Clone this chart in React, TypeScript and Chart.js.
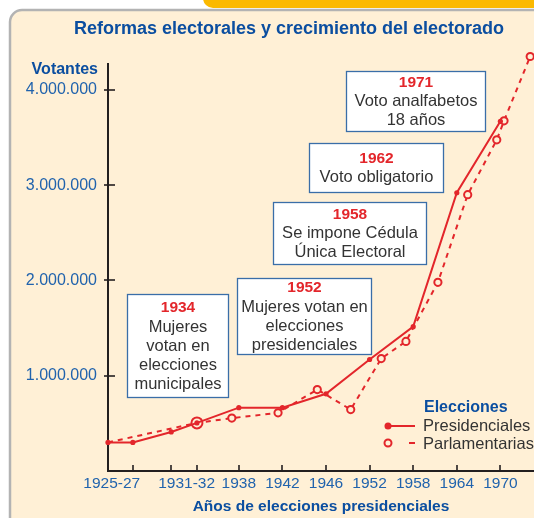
import React, { useEffect, useRef } from "react";
import { Chart, registerables } from "chart.js";

Chart.register(...registerables);

// ---------- data ----------
const presidentialYears = [1925, 1927, 1931, 1932, 1938, 1942, 1946, 1952, 1958, 1964, 1970];
const presidentialVoters = [300000, 300000, 410000, 505000, 665000, 665000, 810000, 1170000, 1515000, 2920000, 3670000];

const parliamentaryYears = [1925, 1932, 1937, 1941.6, 1945.2, 1949.4, 1953.6, 1957, 1961.4, 1965.5, 1969.5, 1970.5, 1974.1];
const parliamentaryVoters = [300000, 505000, 555000, 610000, 855000, 645000, 1180000, 1360000, 1980000, 2900000, 3475000, 3675000, 4350000];

const xTickLabels = ["1925-27", "1931-32", "1938", "1942", "1946", "1952", "1958", "1964", "1970"];
const xTickLabelYears = [1925.3, 1931.6, 1938, 1942, 1946, 1952, 1958, 1964, 1970];
const xTickMarkYears = [1927, 1931, 1932, 1938, 1942, 1946, 1952, 1958, 1964, 1970];
const yTickValues = [1000000, 2000000, 3000000, 4000000];

const reformYears = ["1934", "1952", "1958", "1962", "1971"];
const reformTexts = [
  ["Mujeres", "votan en", "elecciones", "municipales"],
  ["Mujeres votan en", "elecciones", "presidenciales"],
  ["Se impone Cédula", "Única Electoral"],
  ["Voto obligatorio"],
  ["Voto analfabetos", "18 años"],
];

// ---------- layout / style ----------
// the x axis gives one slot per presidential election (early ones compressed)
const axisAnchorYears = [1925, 1927, 1931, 1932, 1938, 1942, 1946, 1952, 1958, 1964, 1970];
const axisAnchorSlots = [0, 0.57, 1.45, 2.04, 3, 4, 5, 6, 7, 8, 9];
function toSlot(year: number): number {
  const n = axisAnchorYears.length;
  if (year <= axisAnchorYears[0]) return axisAnchorSlots[0];
  for (let i = 1; i < n; i++) {
    if (year <= axisAnchorYears[i]) {
      const y0 = axisAnchorYears[i - 1], y1 = axisAnchorYears[i];
      const s0 = axisAnchorSlots[i - 1], s1 = axisAnchorSlots[i];
      return s0 + ((year - y0) / (y1 - y0)) * (s1 - s0);
    }
  }
  return axisAnchorSlots[n - 1] + (year - axisAnchorYears[n - 1]) / 6;
}
const Y_MAX = 4418000;
const Y_AXIS_TOP = 4280000;

const reformBoxes = [
  { x: 127, y: 294, w: 102, h: 104 },
  { x: 237, y: 278, w: 135, h: 77 },
  { x: 273, y: 202, w: 154, h: 63 },
  { x: 309, y: 143, w: 135, h: 50 },
  { x: 346, y: 71, w: 140, h: 61 },
];

const FONT = '"Liberation Sans", Arial, Helvetica, sans-serif';
const RED = "#e3262b";
const CREAM = "#fff0d6";
const TITLE_BLUE = "#0b4ea0";
const TICK_BLUE = "#2163ad";
const AXIS = "#231f20";
const TEXT = "#333333";
const BOX_BORDER = "#3a6ea8";

function fmt(v: number): string {
  return String(Math.round(v)).replace(/\B(?=(\d{3})+(?!\d))/g, ".");
}

const backgroundPlugin = {
  id: "bg",
  beforeDraw(chart: any) {
    const ctx = chart.ctx as CanvasRenderingContext2D;
    ctx.save();
    ctx.fillStyle = "#ffffff";
    ctx.fillRect(0, 0, chart.width, chart.height);
    // panel
    ctx.beginPath();
    (ctx as any).roundRect(10, 10, 700, 700, 12);
    ctx.fillStyle = CREAM;
    ctx.fill();
    ctx.lineWidth = 2.5;
    ctx.strokeStyle = "#b3b3b3";
    ctx.stroke();
    // yellow tab
    ctx.beginPath();
    (ctx as any).roundRect(203, -20, 500, 28, 10);
    ctx.fillStyle = "#fbb900";
    ctx.fill();
    // title
    ctx.fillStyle = TITLE_BLUE;
    ctx.font = `bold 18px ${FONT}`;
    ctx.textAlign = "center";
    ctx.textBaseline = "middle";
    ctx.fillText("Reformas electorales y crecimiento del electorado", 289, 29);
    // y title
    ctx.font = `bold 16px ${FONT}`;
    ctx.textAlign = "right";
    ctx.fillText("Votantes", 98, 70);
    ctx.restore();
  },
};

const decorPlugin = {
  id: "decor",
  beforeDatasetsDraw(chart: any) {
    const ctx = chart.ctx as CanvasRenderingContext2D;
    const ys = chart.scales.y;
    const area = chart.chartArea;
    ctx.save();
    // y axis line
    ctx.strokeStyle = AXIS;
    ctx.lineWidth = 2;
    ctx.beginPath();
    ctx.moveTo(area.left, Math.round(ys.getPixelForValue(Y_AXIS_TOP)));
    ctx.lineTo(area.left, area.bottom + 1);
    ctx.stroke();
    // annotation boxes
    reformBoxes.forEach((b, i) => {
      ctx.fillStyle = "#ffffff";
      ctx.fillRect(b.x, b.y, b.w, b.h);
      ctx.strokeStyle = BOX_BORDER;
      ctx.lineWidth = 1.3;
      ctx.strokeRect(b.x + 0.5, b.y + 0.5, b.w - 1, b.h - 1);
      const lines = [reformYears[i], ...reformTexts[i]];
      const lh = 19;
      const cx = b.x + b.w / 2;
      const cy = b.y + b.h / 2;
      const y0 = cy - ((lines.length - 1) * lh) / 2;
      ctx.textAlign = "center";
      ctx.textBaseline = "middle";
      lines.forEach((t, j) => {
        if (j === 0) {
          ctx.font = `bold 15.5px ${FONT}`;
          ctx.fillStyle = RED;
        } else {
          ctx.font = `16.5px ${FONT}`;
          ctx.fillStyle = TEXT;
        }
        ctx.fillText(t, cx, y0 + j * lh);
      });
    });
    ctx.restore();
  },
  afterDraw(chart: any) {
    const ctx = chart.ctx as CanvasRenderingContext2D;
    const xs = chart.scales.x;
    const ys = chart.scales.y;
    const area = chart.chartArea;
    ctx.save();
    ctx.strokeStyle = AXIS;
    ctx.lineWidth = 1.6;
    xTickMarkYears.forEach((yr) => {
      const px = Math.round(xs.getPixelForValue(toSlot(yr)));
      ctx.beginPath();
      ctx.moveTo(px, area.bottom - 6);
      ctx.lineTo(px, area.bottom + 1);
      ctx.stroke();
    });
    yTickValues.forEach((v) => {
      const py = Math.round(ys.getPixelForValue(v));
      ctx.beginPath();
      ctx.moveTo(area.left - 4, py);
      ctx.lineTo(area.left + 7, py);
      ctx.stroke();
    });

    // legend
    const ds = chart.data.datasets;
    ctx.textAlign = "left";
    ctx.textBaseline = "middle";
    ctx.fillStyle = TITLE_BLUE;
    ctx.font = `bold 16px ${FONT}`;
    ctx.fillText("Elecciones", 424, 408);
    ctx.font = `16.5px ${FONT}`;
    ctx.fillStyle = TEXT;
    ctx.fillText(ds[0].label, 423, 426);
    ctx.fillText(ds[1].label, 423, 444);
    // presidential symbol
    ctx.strokeStyle = RED;
    ctx.lineWidth = 2;
    ctx.beginPath();
    ctx.moveTo(388, 426);
    ctx.lineTo(415, 426);
    ctx.stroke();
    ctx.fillStyle = RED;
    ctx.beginPath();
    ctx.arc(388, 426, 3.5, 0, Math.PI * 2);
    ctx.fill();
    // parliamentary symbol
    ctx.beginPath();
    ctx.moveTo(409, 443);
    ctx.lineTo(415, 443);
    ctx.stroke();
    ctx.fillStyle = CREAM;
    ctx.beginPath();
    ctx.arc(388, 443, 3.5, 0, Math.PI * 2);
    ctx.fill();
    ctx.stroke();
    ctx.restore();
  },
};

export default function App() {
  const canvasRef = useRef<HTMLCanvasElement | null>(null);

  useEffect(() => {
    const canvas = canvasRef.current;
    if (!canvas) return;
    const chart = new Chart(canvas, {
      type: "line",
      data: {
        datasets: [
          {
            label: "Presidenciales",
            data: presidentialYears.map((yr, i) => ({ x: toSlot(yr), y: presidentialVoters[i] })),
            borderColor: RED,
            backgroundColor: RED,
            borderWidth: 2,
            pointRadius: 2.6,
            pointBackgroundColor: RED,
            pointBorderWidth: 0,
            tension: 0,
            clip: false as any,
          },
          {
            label: "Parlamentarias",
            data: parliamentaryYears.map((yr, i) => ({ x: toSlot(yr), y: parliamentaryVoters[i] })),
            borderColor: RED,
            backgroundColor: CREAM,
            borderWidth: 2,
            borderDash: [5, 5],
            pointRadius: (c: any) => (c.dataIndex === 0 ? 0 : c.dataIndex === 1 ? 5.5 : 3.6),
            pointBackgroundColor: CREAM,
            pointBorderColor: RED,
            pointBorderWidth: 2,
            tension: 0,
            clip: false as any,
          },
        ],
      },
      options: {
        responsive: false,
        animation: false,
        events: [],
        layout: { autoPadding: false, padding: { top: 50, left: 0, right: 0, bottom: 0 } },
        plugins: {
          legend: { display: false },
          title: { display: false },
          tooltip: { enabled: false },
        },
        scales: {
          x: {
            type: "linear",
            min: 0,
            max: (534 - 108) / 43.6,
            afterBuildTicks: (s: any) => {
              s.ticks = xTickLabelYears.map((yr) => ({ value: toSlot(yr) }));
            },
            afterFit: (s: any) => {
              s.height = 47;
              s.paddingLeft = 0;
              s.paddingRight = 0;
            },
            ticks: {
              autoSkip: false,
              maxRotation: 0,
              minRotation: 0,
              padding: 3,
              color: TICK_BLUE,
              font: { size: 15.5, family: FONT },
              callback: (_v: any, i: number) => xTickLabels[i],
            },
            grid: { display: false, drawTicks: false },
            border: { display: true, color: AXIS, width: 2 },
            title: {
              display: true,
              text: "Años de elecciones presidenciales",
              color: TITLE_BLUE,
              font: { size: 15.5, weight: "bold", family: FONT },
              padding: { top: 0, bottom: 2 },
            },
          },
          y: {
            type: "linear",
            min: 0,
            max: Y_MAX,
            afterBuildTicks: (s: any) => {
              s.ticks = yTickValues.map((v) => ({ value: v }));
            },
            afterFit: (s: any) => {
              s.width = 108;
              s.paddingTop = 0;
              s.paddingBottom = 0;
            },
            ticks: {
              padding: 11,
              color: TICK_BLUE,
              font: { size: 16, family: FONT },
              callback: (v: any) => fmt(Number(v)),
            },
            grid: { display: false, drawTicks: false },
            border: { display: false },
          },
        },
      } as any,
      plugins: [backgroundPlugin, decorPlugin],
    });
    return () => chart.destroy();
  }, []);

  return (
    <div style={{ position: "absolute", left: 0, top: 0, width: 534, height: 518 }}>
      <canvas ref={canvasRef} width={534} height={518} style={{ display: "block" }} />
    </div>
  );
}
